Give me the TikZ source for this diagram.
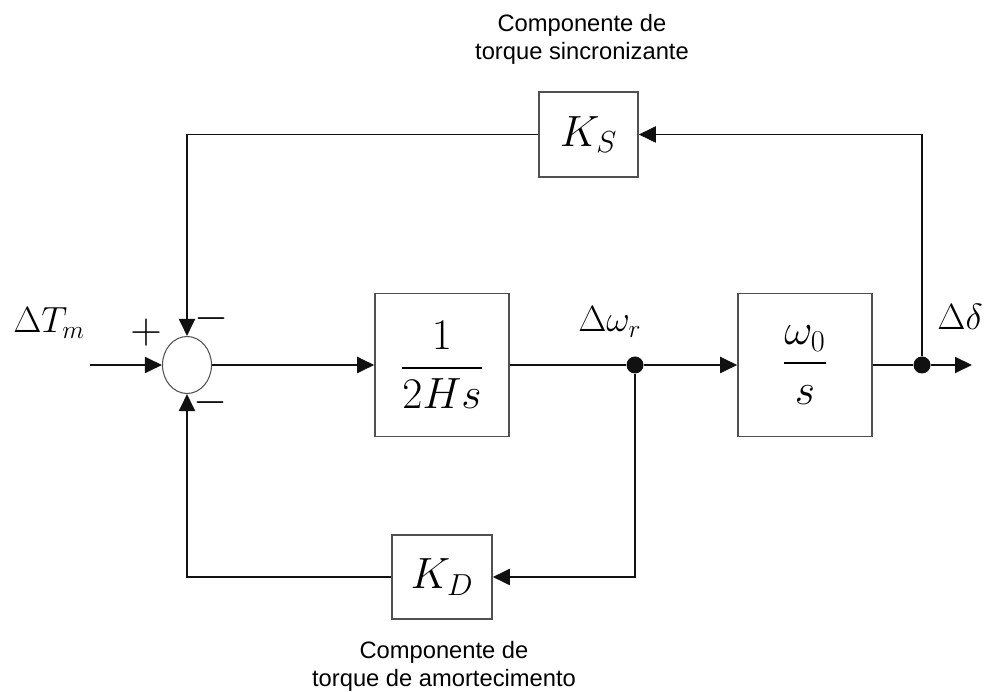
\documentclass[tikz,border=0pt]{standalone}
\usepackage{amsmath}
\usepackage{fontspec}
\setmainfont{Liberation Sans}
\usetikzlibrary{arrows.meta, shapes.geometric}
\definecolor{blkedge}{HTML}{505050}
\definecolor{sigline}{HTML}{111111}

\begin{document}
\begin{tikzpicture}[
  blk/.style={rectangle, draw=blkedge, line width=0.9pt, fill=white, minimum width=2.68cm,
              minimum height=2.86cm, inner sep=0pt, font=\fontsize{24}{28}\selectfont},
  gain/.style={blk, minimum width=1.98cm, minimum height=1.7cm},
  sumj/.style={ellipse, draw=blkedge, line width=0.6pt, fill=white, minimum width=0.98cm,
               minimum height=1.14cm, inner sep=0pt},
  tap/.style={circle, fill=sigline, inner sep=0pt, minimum size=0.34cm},
  sig/.style={draw=sigline, line width=1.1pt, -{Triangle[length=0.34cm, width=0.32cm]}},
  var/.style={font=\fontsize{22}{26}\selectfont, inner sep=0pt},
  sgn/.style={font=\fontsize{26}{30}\selectfont, inner sep=0pt},
  note/.style={font=\fontsize{13.5}{16}\selectfont, align=center},
]
\useasboundingbox (0,0) rectangle (19.74,-13.84);
% forward path
\node[sumj] (sum) at (3.74,-7.3) {};
\node[blk] (inertia) at (8.84,-7.3) {$\dfrac{1}{2Hs}$};
\node[blk] (integ) at (16.1,-7.3) {$\dfrac{\omega_0}{s}$};
\node[tap] (dw) at (12.7,-7.3) {};
\node[tap] (dd) at (18.44,-7.3) {};
\coordinate (in) at (1.8,-7.3);
\coordinate (out) at (19.44,-7.3);
% feedback gains
\node[gain] (ks) at (11.77,-2.69) {$K_S$};
\node[gain, minimum width=2.0cm, minimum height=1.68cm] (kd) at (8.84,-11.54) {$K_D$};
% signals
\draw[sig] (in) -- (sum.west);
\draw[sig] (sum.east) -- (inertia.west);
\draw[sig] (inertia.east) -- (dw) -- (integ.west);
\draw[sig] (integ.east) -- (dd) -- (out);
% synchronizing loop (top) and damping loop (bottom)
\draw[sig] (dd) |- (ks.east);
\draw[sig] (ks.west) -| (sum.north);
\draw[sig] (dw) |- (kd.east);
\draw[sig] (kd.west) -| (sum.south);
% signs and variable names
\node[var, anchor=base west] (tm) at (0.26,-6.66) {$\Delta T_m$};
\node[var, anchor=base west] (wr) at (11.56,-6.64) {$\Delta\omega_r$};
\node[var, anchor=base west] (dl) at (18.74,-6.6) {$\Delta\delta$};
\node[sgn] (plus) at (2.92,-6.66) {$+$};
\node[sgn] (mtop) at (4.24,-6.38) {$-$};
\node[sgn] (mbot) at (4.22,-8.06) {$-$};
% torque component captions
\node[note] (capks) at (11.64,-0.78) {Componente de\\torque sincronizante};
\node[note] (capkd) at (8.88,-13.32) {Componente de\\torque de amortecimento};
\end{tikzpicture}
\end{document}
